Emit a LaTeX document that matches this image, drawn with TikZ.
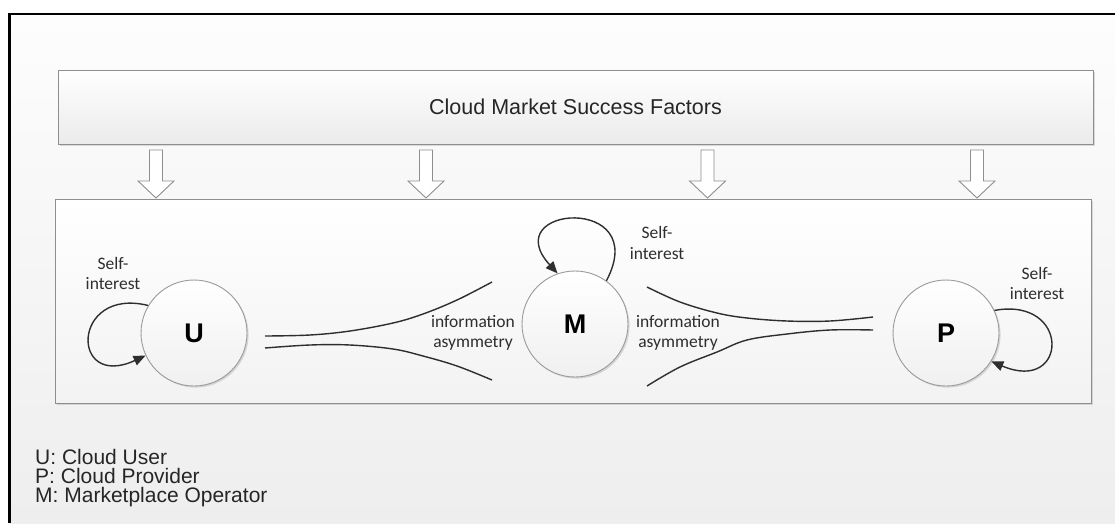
\documentclass[tikz,border=0pt]{standalone}
\usepackage{fontspec}
\setmainfont{Liberation Sans}
\newfontfamily\calfont{Carlito}
\usetikzlibrary{shadows,arrows.meta}

\definecolor{boxline}{HTML}{8E8E8E}
\definecolor{circline}{HTML}{9A9A9A}
\definecolor{ink}{HTML}{2E2E2E}
\definecolor{bgtop}{HTML}{FDFDFD}
\definecolor{bgbot}{HTML}{EEEEEE}

\tikzset{
  softshadow/.style={drop shadow={shadow xshift=1.6pt, shadow yshift=-1.6pt, opacity=0.22, fill=black!60}},
  factorbox/.style={draw=boxline, line width=0.9pt, top color=white, bottom color=black!8,
    minimum width=1035pt, minimum height=74pt, inner sep=0pt, softshadow,
    font=\fontsize{21.5}{24}\selectfont, text=black!85},
  marketbox/.style={draw=boxline, line width=0.9pt, top color=white, bottom color=black!5,
    minimum width=1036pt, minimum height=204pt, inner sep=0pt, softshadow},
  actor/.style={circle, draw=circline, line width=0.9pt, top color=white, bottom color=black!6,
    minimum size=106pt, inner sep=0pt, softshadow,
    font=\bfseries\fontsize{27}{29}\selectfont},
  blockarrow/.style={draw=boxline, line width=0.9pt, fill=white, line join=miter},
  selfloop/.style={draw=ink, line width=1.4pt, -{Triangle[length=12pt, width=10pt]}},
  asym/.style={draw=ink, line width=1.4pt},
  smalllabel/.style={font=\calfont\fontsize{17.5}{20.5}\selectfont, align=center, text=ink, inner sep=0pt},
  legend/.style={font=\fontsize{21}{19}\selectfont, text=black!85, inner sep=0pt,
    anchor=base west, text height=14.5pt, text depth=3.5pt}
}

\begin{document}
\begin{tikzpicture}[x=1pt, y=-1pt]
  \useasboundingbox (0,0) rectangle (1115,523);
  \fill[white] (0,0) rectangle (1115,523);
  % panel background and frame
  \shade[top color=bgtop, bottom color=bgbot] (9.5,14) rectangle (1115,523);
  \draw[black, line width=2.6pt] (9.5,523) -- (9.5,14) -- (1115,14);

  % success factors and the market box
  \node[factorbox] (factors) at (575.5,107) {Cloud Market Success Factors};
  \node[marketbox] (market) at (573,301) {};

  % block arrows from the factors into the market
  \foreach \ax in {156,426,707.5,977}{
    \draw[blockarrow] (\ax-6.5,150) -- (\ax+6.5,150) -- (\ax+6.5,181) -- (\ax+18,181)
      -- (\ax,198) -- (\ax-18,181) -- (\ax-6.5,181) -- cycle;
  }

  % actors
  \node[actor] (U) at (194,333) {U};
  \node[actor] (M) at (575,324) {M};
  \node[actor] (P) at (946,333) {P};

  % self-interest loops
  \draw[selfloop] (U.149) .. controls +(-77,-19) and +(-76,35) .. (U.205);
  \draw[selfloop] (M.54) .. controls +(46,-87) and +(-62,-68) .. (M.109);
  \draw[selfloop] (P.25) .. controls +(77,-14) and +(77,33) .. (P.-32);

  \node[smalllabel] (selfU) at (113,273.5) {Self-\\interest};
  \node[smalllabel] (selfM) at (657,243) {Self-\\interest};
  \node[smalllabel] (selfP) at (1037,283.5) {Self-\\interest};

  % information asymmetry between user and marketplace
  \draw[asym] plot[smooth, tension=0.6] coordinates
    {(265,336) (310,335) (350,331) (393,323) (423,314) (457,300) (492,282)};
  \draw[asym] plot[smooth, tension=0.6] coordinates
    {(265,348) (310,345) (350,345) (393,349) (423,356) (457,366) (492,380)};
  \node[smalllabel] (asymL) at (473,333) {information\\asymmetry};

  % information asymmetry between marketplace and provider
  \draw[asym] plot[smooth, tension=0.6] coordinates
    {(647,287) (680,302) (717,313) (747,318) (787,321) (830,321) (873,317)};
  \draw[asym] plot[smooth, tension=0.6] coordinates
    {(647,386) (680,367) (717,352) (747,340) (787,334) (830,330) (873,330)};
  \node[smalllabel] (asymR) at (678,333) {information\\asymmetry};

  % legend
  \node[legend] (keyU) at (35,464) {U: Cloud User};
  \node[legend] (keyP) at (35,483) {P: Cloud Provider};
  \node[legend] (keyM) at (35,502) {M: Marketplace Operator};
\end{tikzpicture}
\end{document}
